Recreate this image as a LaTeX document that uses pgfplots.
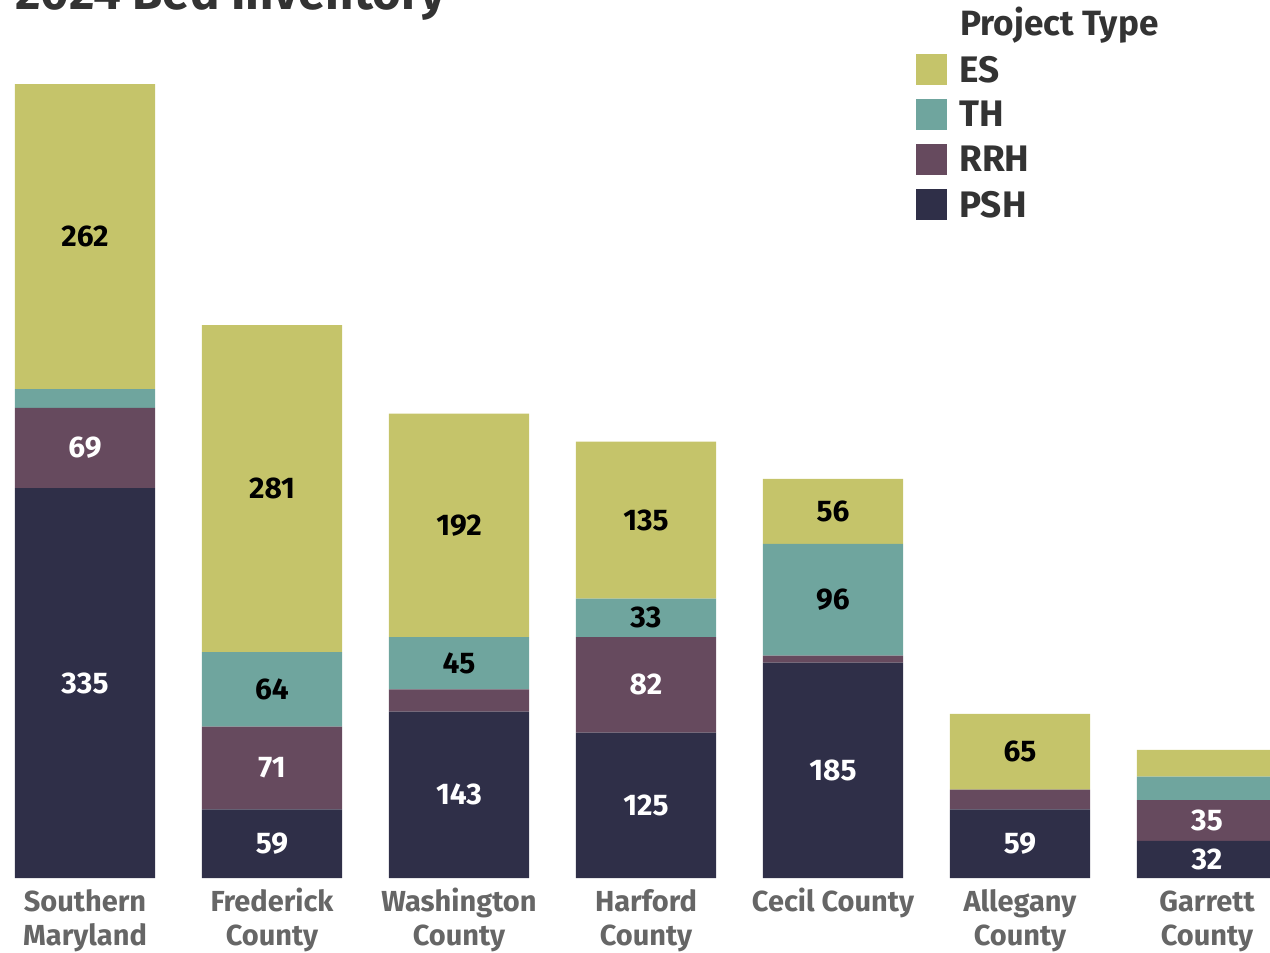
\documentclass[border=0pt]{standalone}
\usepackage{pgfplots}
\usepackage{pgfplotstable}
\pgfplotsset{compat=1.18}
\usepackage{fontspec}
\setmainfont{Fira Sans}

\definecolor{esc}{RGB}{197,196,106}
\definecolor{thc}{RGB}{111,165,158}
\definecolor{rrhc}{RGB}{102,74,94}
\definecolor{pshc}{RGB}{47,47,72}
\definecolor{catgray}{RGB}{102,102,102}
\definecolor{titlegray}{RGB}{51,51,51}

% beds per county and project type, labels left empty where the chart shows none
\pgfplotstableread{
x ps rr th es lps lrr lth les
0 335 69 16 262 335 69 {} 262
1 59 71 64 281 59 71 64 281
2 143 19 45 192 143 {} 45 192
3 125 82 33 135 125 82 33 135
4 185 6 96 56 185 {} 96 56
5 59 17 0 65 59 {} {} 65
6 32 35 20 23 32 35 {} {}
}\beds

% stacked labels already sit in the middle of each segment
\pgfplotsset{
  seg/.style n args={2}{
    fill=#1, draw=none,
    point meta=explicit symbolic,
    nodes near coords,
    nodes near coords style={text=#2, anchor=center, inner sep=0pt,
      font=\fontsize{17}{20}\selectfont\bfseries},
  },
}

\begin{document}
\begin{tikzpicture}
\useasboundingbox (0,-1.48) rectangle (25.4,17.56);
\clip (0,-1.48) rectangle (25.4,17.56);
\begin{axis}[
  at={(0,0)}, anchor=south west,
  scale only axis,
  width=25.4cm, height=17.56cm,
  xmin=-0.4545, xmax=6.337,
  ymin=0, ymax=754.3,
  ybar stacked, bar width=0.749,
  axis line style={draw=none},
  tick style={draw=none},
  ytick=\empty,
  xtick={0,...,6},
  xticklabels={{\strut Southern\\Maryland},{\strut Frederick\\County},{\strut Washington\\County},{\strut Harford\\County},{\strut Cecil County},{\strut Allegany\\County},{\strut Garrett\\County}},
  xticklabel style={align=center, inner sep=0pt, anchor=north, text=catgray,
    font=\fontsize{16.5}{19.5}\selectfont\bfseries, yshift=-0.18cm},
  reverse legend,
  legend image code/.code={\fill[#1] (0cm,-0.30cm) rectangle (0.62cm,0.32cm);},
  legend style={at={(0.7213,0.9385)}, anchor=north west, draw=none, fill=none,
    inner sep=0pt, row sep=0.28cm, text=titlegray,
    font=\fontsize{21}{25}\selectfont\bfseries,
    nodes={inner sep=0pt},
    /tikz/every odd column/.append style={column sep=0.24cm}},
  legend cell align=left,
]
\addplot[seg={pshc}{white}] table[x=x, y=ps, meta=lps] {\beds};
\addlegendentry{PSH}
\addplot[seg={rrhc}{white}] table[x=x, y=rr, meta=lrr] {\beds};
\addlegendentry{RRH}
\addplot[seg={thc}{black}] table[x=x, y=th, meta=lth] {\beds};
\addlegendentry{TH}
\addplot[seg={esc}{black}] table[x=x, y=es, meta=les] {\beds};
\addlegendentry{ES}
\node[anchor=base west, inner sep=0pt, text=titlegray,
  font=\fontsize{20}{24}\selectfont\bfseries] at (rel axis cs:0.7559,0.9601) {Project Type};
\end{axis}
\node[anchor=base west, inner sep=0pt, text=titlegray,
  font=\fontsize{28}{32}\selectfont\bfseries] at (0.3cm,17.36cm) {2024 Bed Inventory};
\end{tikzpicture}
\end{document}
